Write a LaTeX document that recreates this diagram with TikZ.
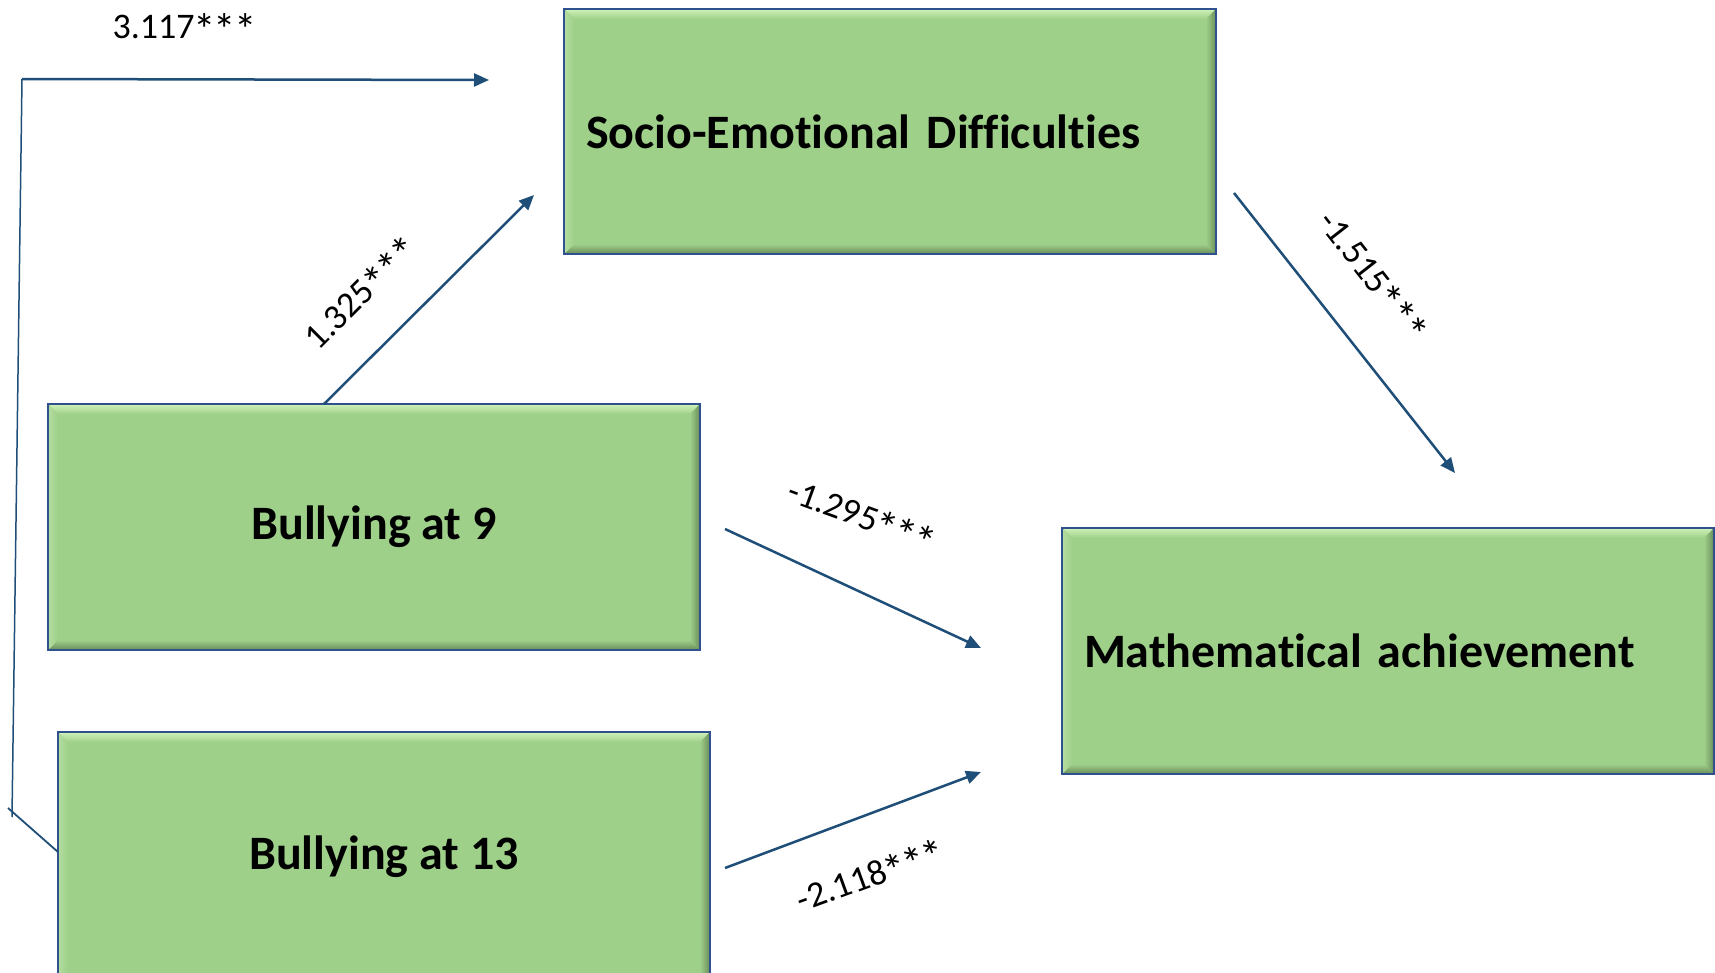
\documentclass[tikz,border=0pt]{standalone}
\usepackage{graphicx}
\usepackage{fontspec}
\setmainfont{Carlito}[Ligatures=NoCommon]
\usetikzlibrary{arrows.meta,calc}
\definecolor{boxfill}{RGB}{159,208,138}
\definecolor{boxline}{RGB}{47,82,143}
\definecolor{arr}{RGB}{31,78,121}
\definecolor{bevlight}{RGB}{208,242,186}
\definecolor{bevmid}{RGB}{180,222,160}
\definecolor{bevdark}{RGB}{105,140,90}
\newcommand{\stt}{\kern-0.03em\smash{\raisebox{-0.2em}{\scalebox{1.25}{*}}}\kern-0.03em}
\newcommand{\stars}{\stt\stt\stt}
\tikzset{
  varbox/.style={draw=boxline, line width=2pt, fill=boxfill, minimum width=650pt,
    minimum height=243pt, inner sep=0pt, anchor=north west,
    font=\bfseries\fontsize{48}{56}\selectfont},
  leftbox/.style={varbox, inner xsep=21pt, text width=608pt, align=left},
  centbox/.style={varbox, align=center},
  link/.style={draw=arr, line width=2.5pt, -{Triangle[length=15pt,width=13pt]}},
  plainlink/.style={draw=arr, line width=1.8pt},
  lbl/.style={font=\fontsize{36}{40}\selectfont, inner sep=0pt}
}
\newcommand{\bevelit}[1]{%
  \shade[top color=bevlight, bottom color=boxfill]
    (#1.north west) -- (#1.north east) -- ($(#1.north east)+(-10pt,-10pt)$) -- ($(#1.north west)+(10pt,-10pt)$) -- cycle;
  \shade[top color=boxfill, bottom color=bevdark]
    (#1.south west) -- (#1.south east) -- ($(#1.south east)+(-10pt,10pt)$) -- ($(#1.south west)+(10pt,10pt)$) -- cycle;
  \shade[left color=bevmid, right color=boxfill]
    (#1.north west) -- (#1.south west) -- ($(#1.south west)+(10pt,10pt)$) -- ($(#1.north west)+(10pt,-10pt)$) -- cycle;
  \shade[left color=boxfill, right color=bevdark]
    (#1.north east) -- (#1.south east) -- ($(#1.south east)+(-10pt,10pt)$) -- ($(#1.north east)+(-10pt,-10pt)$) -- cycle;
  \draw[boxline, line width=2pt] (#1.north west) rectangle (#1.south east);
}
\begin{document}
\begin{tikzpicture}[x=1pt, y=-1pt]
\useasboundingbox (0,0) rectangle (1715,972);
\clip (0,0) rectangle (1715,972);
\fill[white] (0,0) rectangle (1715,972);

% boxes
\node[leftbox] (sed) at (564,9) {\phantom{X}};
\bevelit{sed}
\node[leftbox, fill=none, draw=none] (sedt) at (564,9) {Socio-Emotional Difficulties};

\node[centbox, minimum height=244pt] (b9) at (48,404) {\phantom{X}};
\bevelit{b9}
\node[centbox, minimum height=244pt, fill=none, draw=none] (b9t) at (48,404) {Bullying at 9};

\node[centbox, minimum height=248pt] (b13) at (58,732) {\phantom{X}};
\bevelit{b13}
\node[centbox, minimum height=248pt, fill=none, draw=none] (b13t) at (58,732) {Bullying at 13};

\node[leftbox, minimum height=244pt] (math) at (1062,528) {\phantom{X}};
\bevelit{math}
\node[leftbox, minimum height=244pt, fill=none, draw=none] (matht) at (1062,528) {Mathematical achievement};

% coordinates
\coordinate (c0) at (8,808);
\coordinate (c1) at (12,817);
\coordinate (c2) at (22,79);
\coordinate (c3) at (489,80);
\coordinate (a1s) at (324,404);
\coordinate (a1e) at (534,195);
\coordinate (a2s) at (1234,193);
\coordinate (a2e) at (1455,473);
\coordinate (a3s) at (725,529);
\coordinate (a3e) at (981,648);
\coordinate (a4s) at (725,868);
\coordinate (a4e) at (981,772);

% connectors
\draw[plainlink] (b13.west |- 0,852) -- (c0);
\draw[plainlink, line width=1.5pt] (c1) -- (c2);
\draw[link] (c2) -- (c3);
\draw[link] (a1s) -- (a1e);
\draw[link] (a2s) -- (a2e);
\draw[link] (a3s) -- (a3e);
\draw[link] (a4s) -- (a4e);

% labels
\node[lbl] (l1) at (184,27) {3.117\stars};
\node[lbl, rotate=45] (l2) at (361,293) {1.325\stars};
\node[lbl, rotate=-52] (l3) at (1373,276) {-1.515\stars};
\node[lbl, rotate=-20] (l4) at (862,516) {-1.295\stars};
\node[lbl, rotate=20] (l5) at (870,875) {-2.118\stars};
\end{tikzpicture}
\end{document}
